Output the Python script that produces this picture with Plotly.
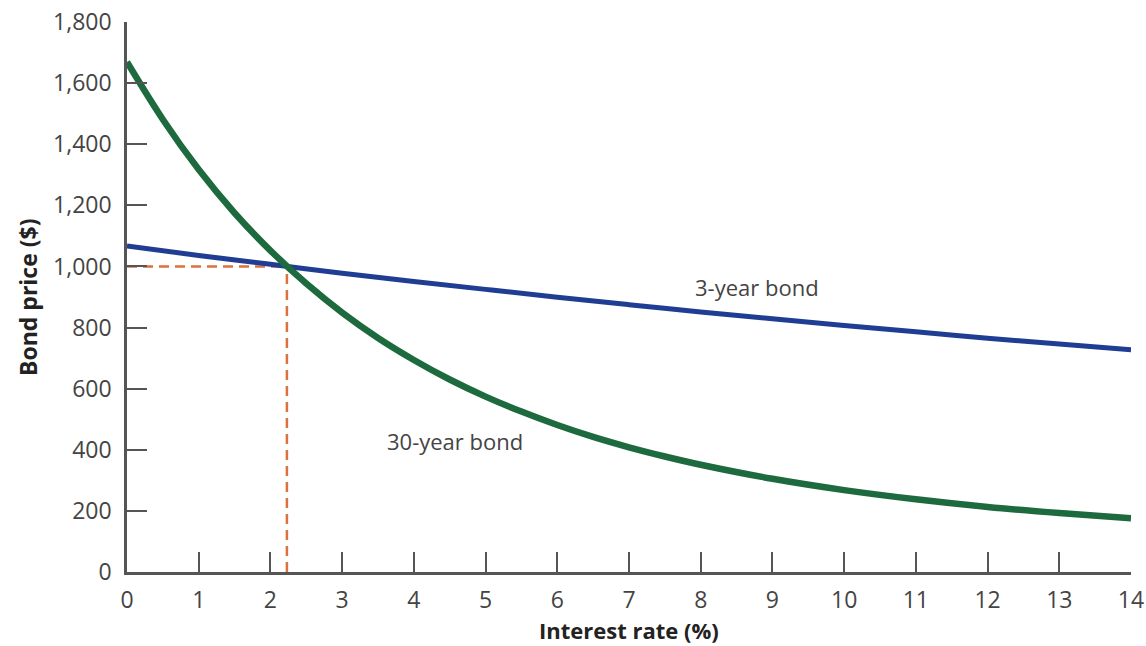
import plotly.graph_objects as go

# Interest rates (%) and bond prices ($)
rates_30 = [0, 0.5, 1, 1.5, 2, 2.5, 3, 3.5, 4, 4.5, 5, 5.5, 6, 6.5, 7, 7.5, 8, 9, 10, 11, 12, 13, 14]
price_30 = [1669, 1481, 1317, 1175, 1052, 944, 849, 766, 694, 630, 574, 525, 481, 442, 408, 378, 351, 305, 268, 238, 213, 193, 176]

rates_3 = [0, 1, 2, 3, 4, 5, 6, 7, 8, 9, 10, 11, 12, 13, 14]
price_3 = [1067, 1036, 1007, 978, 951, 925, 899, 875, 851, 829, 807, 786, 765, 746, 727]

par_rate = 2.23
par_price = 1000

x_ticks = list(range(0, 15))
y_ticks = [0, 200, 400, 600, 800, 1000, 1200, 1400, 1600, 1800]
y_tick_text = ["0", "200", "400", "600", "800", "1,000", "1,200", "1,400", "1,600", "1,800"]

ORANGE = "#DE6F3E"
GREEN = "#1D6A3E"
BLUE = "#1F3D93"
AXIS = "#555555"
FONT = "Open Sans"

fig = go.Figure()

# dashed guides
fig.add_trace(go.Scatter(x=[0, par_rate], y=[par_price, par_price], mode="lines",
                         line=dict(color=ORANGE, width=2.5, dash="10px,6px"),
                         hoverinfo="skip", showlegend=False))
fig.add_trace(go.Scatter(x=[par_rate, par_rate], y=[0, par_price], mode="lines",
                         line=dict(color=ORANGE, width=2.5, dash="10px,6px"),
                         hoverinfo="skip", showlegend=False))

fig.add_trace(go.Scatter(x=rates_3, y=price_3, mode="lines", name="3-year bond",
                         line=dict(color=BLUE, width=5, shape="spline"), showlegend=False))
fig.add_trace(go.Scatter(x=rates_30, y=price_30, mode="lines", name="30-year bond",
                         line=dict(color=GREEN, width=6.5, shape="spline"), showlegend=False))

fig.add_annotation(x=8.79, y=933, text="3-year bond", showarrow=False,
                   font=dict(family=FONT, size=22, color="#444444"))
fig.add_annotation(x=4.57, y=429, text="30-year bond", showarrow=False,
                   font=dict(family=FONT, size=22, color="#444444"))

# axis titles
fig.add_annotation(xref="paper", yref="paper", x=0.5, y=0, yshift=-58, showarrow=False,
                   text="<b>Interest rate (%)</b>", yanchor="middle", borderpad=0,
                   font=dict(family=FONT, size=22, color="#222222"))
fig.add_annotation(xref="paper", yref="paper", x=0, y=0.5, xshift=-99, showarrow=False,
                   text="<b>Bond price ($)</b>", textangle=-90, xanchor="center",
                   font=dict(family=FONT, size=23, color="#222222"))

fig.update_xaxes(range=[0, 14], tickvals=x_ticks, ticks="inside", ticklen=20, tickwidth=2,
                 tickcolor=AXIS, showline=True, linecolor=AXIS, linewidth=2.5,
                 showgrid=False, zeroline=False, ticklabelstandoff=6, automargin=False,
                 ticklabeloverflow="allow",
                 tickfont=dict(family=FONT, size=23, color="#444444"))
fig.update_yaxes(range=[0, 1800], tickvals=y_ticks, ticktext=y_tick_text, ticks="inside",
                 ticklen=20, tickwidth=2, tickcolor=AXIS, showline=True, linecolor=AXIS,
                 linewidth=2.5, showgrid=False, zeroline=False, ticklabelstandoff=8,
                 automargin=False, ticklabeloverflow="allow",
                 tickfont=dict(family=FONT, size=23, color="#444444"))

fig.update_layout(width=1146, height=646, plot_bgcolor="white", paper_bgcolor="white",
                  margin=dict(l=127, r=15, t=22, b=74))

fig.write_html("out.html", config={"displayModeBar": False},
               post_script="document.body.style.margin='0';document.body.style.overflow='hidden';")
